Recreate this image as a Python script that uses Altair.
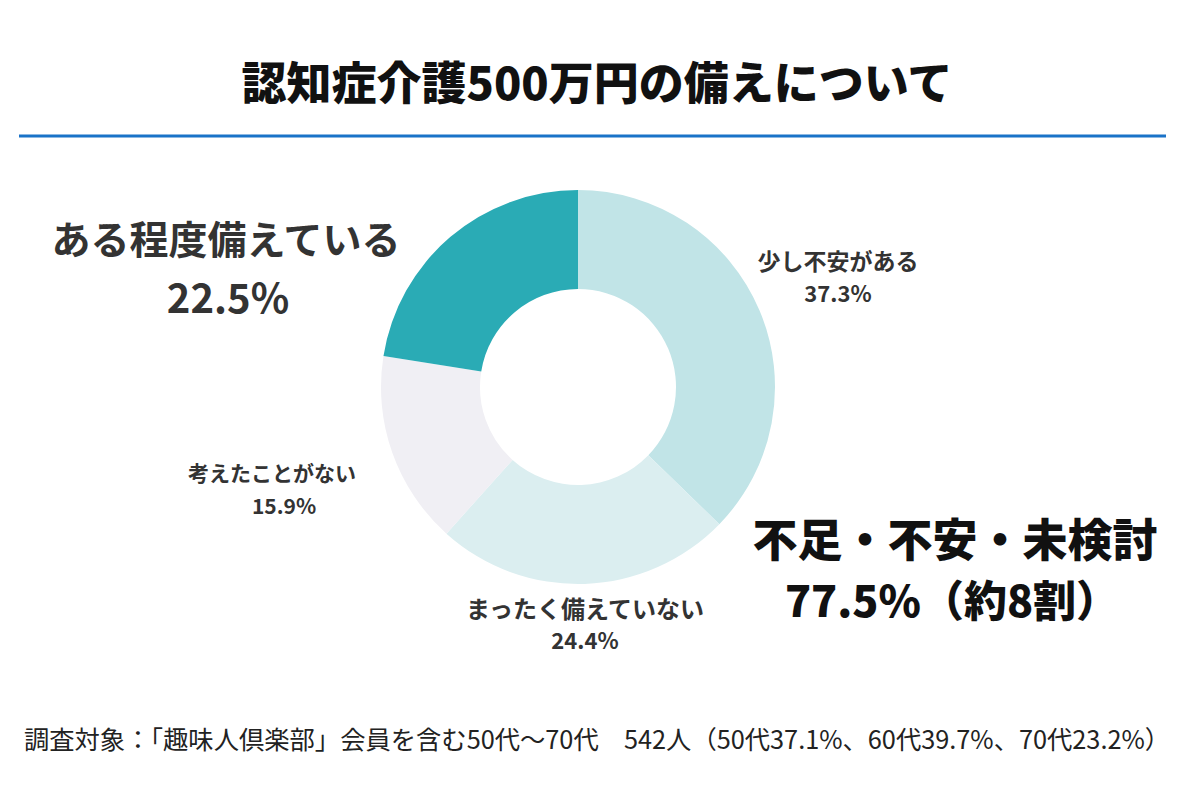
import altair as alt
import pandas as pd

# ---- data ----
categories = ["少し不安がある", "まったく備えていない", "考えたことがない", "ある程度備えている"]
values = [37.3, 24.4, 15.9, 22.5]
order = [1, 2, 3, 4]
colors = ["#c1e4e7", "#dbeef0", "#f0eff4", "#2aabb5"]

title_text = "認知症介護500万円の備えについて"
summary_lines = ["不足・不安・未検討", "77.5%（約8割）"]
footer_text = "調査対象：「趣味人倶楽部」会員を含む50代～70代　542人（50代37.1%、60代39.7%、70代23.2%）"

df = pd.DataFrame({"category": categories, "value": values, "order": order})

FONT = "Noto Sans CJK JP"
one = alt.Data(values=[{}])

def text_layer(txt, x, y, size, color="#333333", weight="bold", align="center"):
    return alt.Chart(one).mark_text(
        text=txt, font=FONT, fontSize=size, fontWeight=weight, color=color,
        align=align, baseline="middle"
    ).encode(x=alt.value(x), y=alt.value(y))

donut = alt.Chart(df).mark_arc(outerRadius=197, innerRadius=98, stroke=None).encode(
    theta=alt.Theta("value:Q", stack=True),
    order=alt.Order("order:Q"),
    color=alt.Color("category:N", scale=alt.Scale(domain=categories, range=colors), legend=None),
    x=alt.value(578),
    y=alt.value(387),
)

rule = alt.Chart(one).mark_rule(color="#1a73c8", strokeWidth=3).encode(
    x=alt.value(19), x2=alt.value(1166), y=alt.value(136)
)

pct = [f"{v}%" for v in values]

layers = [
    rule,
    donut,
    text_layer(title_text, 597, 86, 45, color="#111111", weight=900),
    # segment labels
    text_layer(categories[0], 838, 263, 23),
    text_layer(pct[0], 838, 295, 22),
    text_layer(categories[1], 585, 611, 24),
    text_layer(pct[1], 585, 642, 22),
    text_layer(categories[2], 272, 475, 21),
    text_layer(pct[2], 284, 508, 21),
    text_layer(categories[3], 226, 242, 39),
    text_layer(pct[3], 228, 301, 40),
    # summary
    text_layer(summary_lines[0], 955, 543, 45, color="#111111", weight=900),
    text_layer(summary_lines[1], 952, 604, 43, color="#111111", weight=900),
    # footer
    text_layer(footer_text, 597, 741, 25.3, color="#222222", weight="normal"),
]

chart = alt.layer(*layers).properties(
    width=1200, height=800,
    autosize=alt.AutoSizeParams(type="none"),
    padding=0,
    background="#ffffff",
).configure_view(stroke=None)

chart.save("out.html", embed_options={"renderer": "svg", "actions": False})
